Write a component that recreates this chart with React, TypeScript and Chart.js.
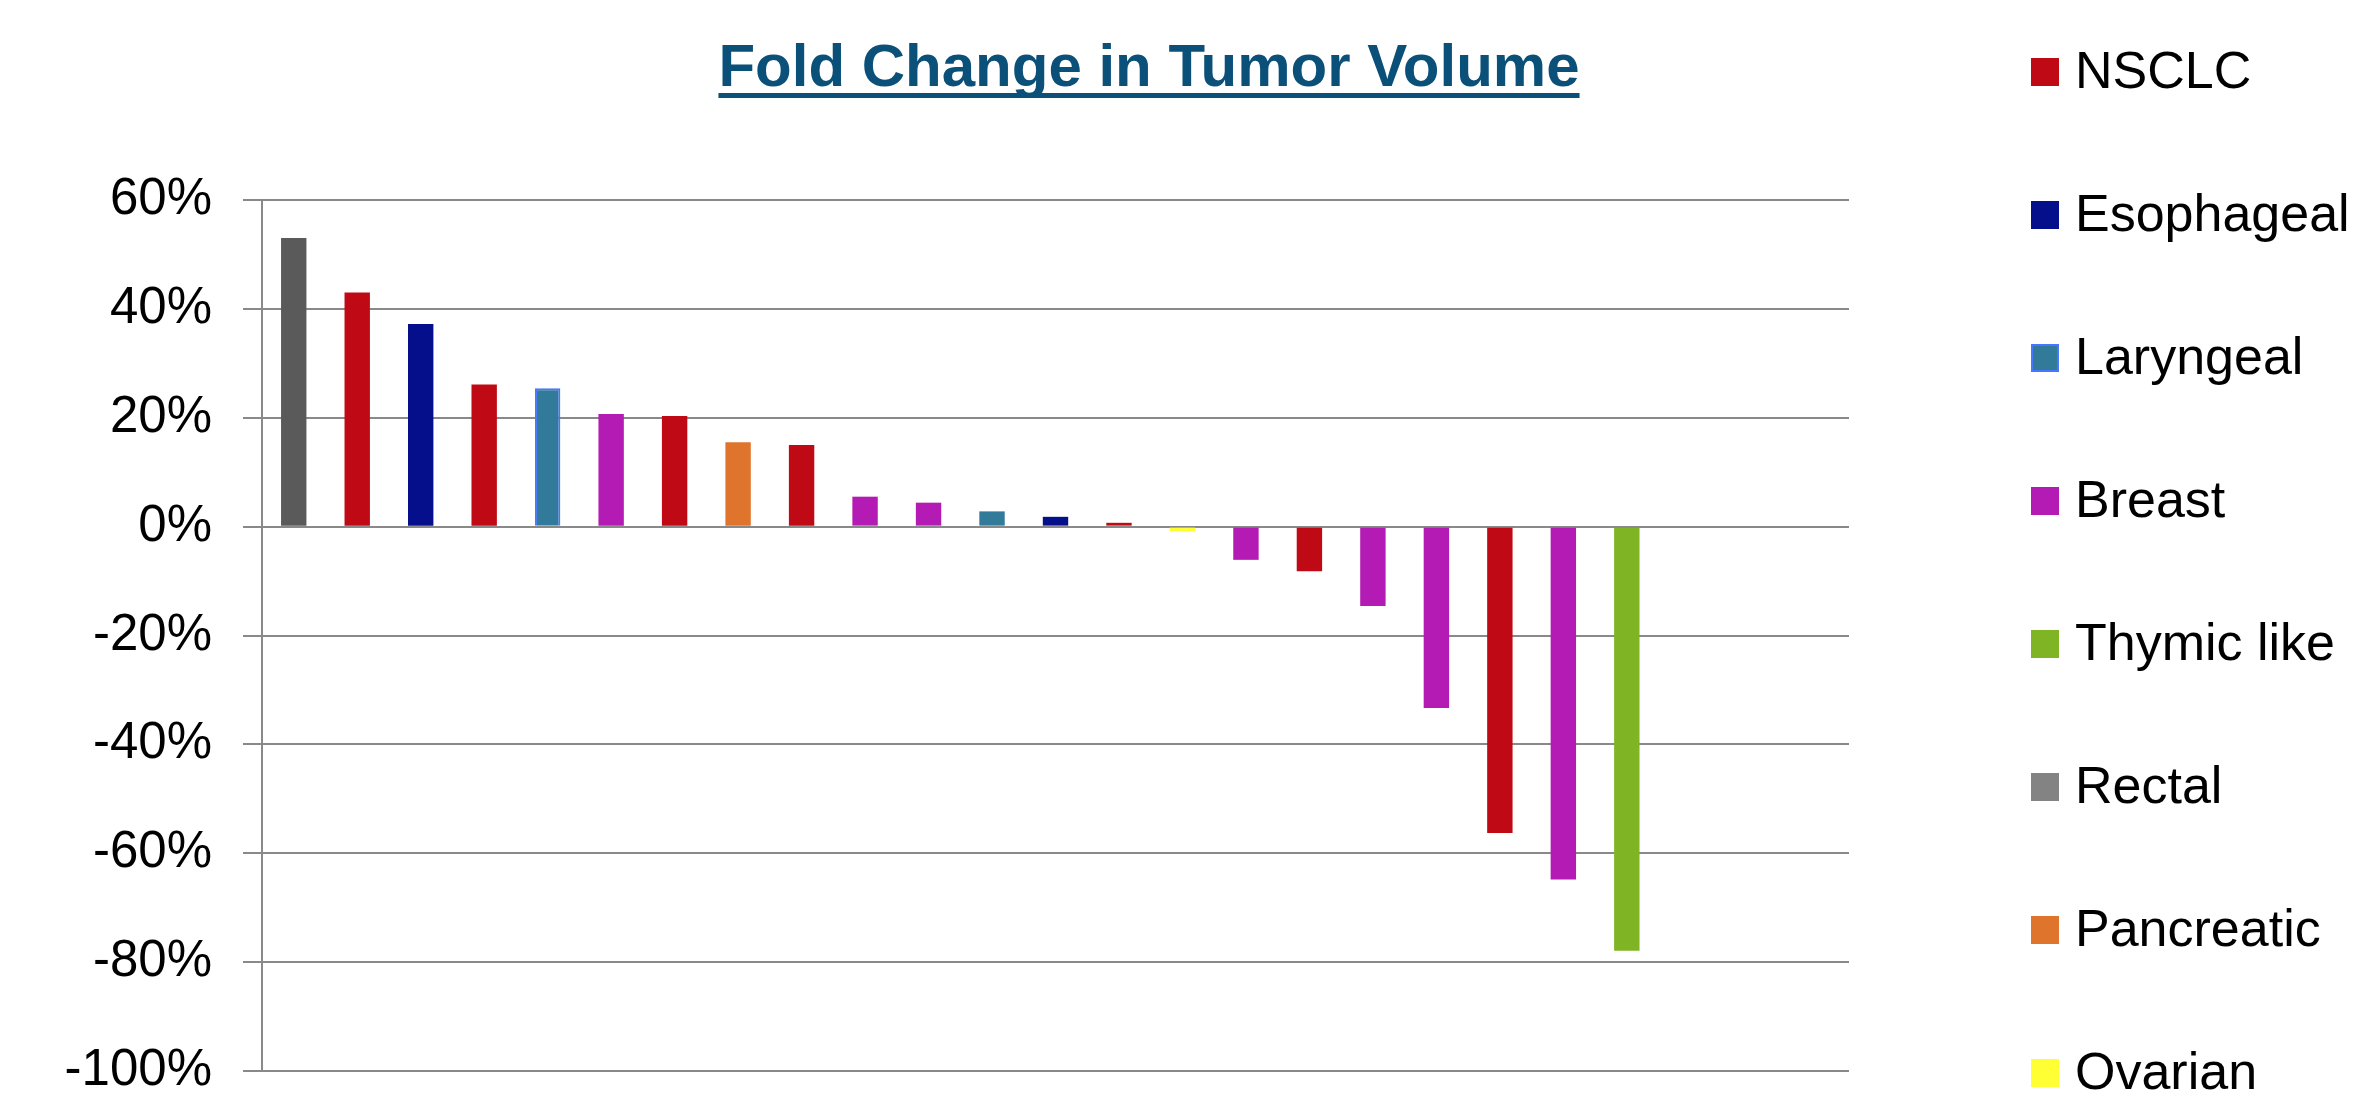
import React, { useEffect, useRef } from "react";
import { Chart, registerables } from "chart.js";

Chart.register(...registerables);

// ---- data ----
const TITLE = "Fold Change in Tumor Volume";
const CATEGORIES = Array.from({ length: 25 }, (_, i) => String(i + 1));
const VALUES: (number | null)[] = [
  53.0, 43.0, 37.2, 26.1, 25.4, 20.7, 20.3, 15.5, 15.0, 5.5, 4.4, 2.8, 1.8, 0.7,
  -0.8, -6.1, -8.2, -14.6, -33.3, -56.3, -64.8, -77.9, null, null, null,
];
const BAR_TYPES = [
  "Rectal", "NSCLC", "Esophageal", "NSCLC", "Laryngeal", "Breast", "NSCLC",
  "Pancreatic", "NSCLC", "Breast", "Breast", "Laryngeal", "Esophageal", "NSCLC",
  "Ovarian", "Breast", "NSCLC", "Breast", "Breast", "NSCLC", "Breast", "Thymic like",
];
const LEGEND_TYPES = [
  "NSCLC", "Esophageal", "Laryngeal", "Breast", "Thymic like", "Rectal", "Pancreatic", "Ovarian",
];
const TYPE_COLORS: Record<string, string> = {
  NSCLC: "#BF0914",
  Esophageal: "#050F8C",
  Laryngeal: "#317A99",
  Breast: "#B41BB4",
  "Thymic like": "#7FB424",
  Rectal: "#5A5A5A",
  Pancreatic: "#DF752C",
  Ovarian: "#FFFF33",
};
const LEGEND_COLORS: Record<string, string> = {
  ...TYPE_COLORS,
  Rectal: "#838383",
};
const OUTLINED_BARS = [4];
const Y_MIN = -100;
const Y_MAX = 60;
const Y_STEP = 20;

const FONT = "'Liberation Sans', Arial, Helvetica, sans-serif";

const overlayPlugin = {
  id: "overlay",
  afterDraw(chart: any) {
    const ctx = chart.ctx as CanvasRenderingContext2D;
    ctx.save();
    // title with underline
    ctx.font = `bold 60px ${FONT}`;
    ctx.fillStyle = "#0B5079";
    ctx.textAlign = "center";
    ctx.textBaseline = "alphabetic";
    const cx = 1149;
    const baseY = 86;
    ctx.fillText(TITLE, cx, baseY);
    const w = ctx.measureText(TITLE).width;
    ctx.fillRect(cx - w / 2, 93, w, 5);

    // legend
    ctx.font = `52px ${FONT}`;
    ctx.textAlign = "left";
    ctx.textBaseline = "middle";
    LEGEND_TYPES.forEach((t, i) => {
      const cy = 72 + i * 143;
      ctx.fillStyle = LEGEND_COLORS[t];
      ctx.fillRect(2031, cy - 14, 28, 28);
      if (t === "Laryngeal") {
        ctx.strokeStyle = "#4876FF";
        ctx.lineWidth = 2;
        ctx.strokeRect(2032, cy - 13, 26, 26);
      }
      ctx.fillStyle = "#000000";
      ctx.fillText(t, 2075, cy + 2);
    });
    ctx.restore();
  },
};

export default function App() {
  const ref = useRef<HTMLCanvasElement | null>(null);

  useEffect(() => {
    if (!ref.current) return;
    const bg = VALUES.map((_, i) => TYPE_COLORS[BAR_TYPES[i]] || "#000");
    const bc = VALUES.map((_, i) => (OUTLINED_BARS.includes(i) ? "#4876FF" : bg[i]));
    const bw = VALUES.map((_, i) => (OUTLINED_BARS.includes(i) ? 2 : 0));
    const chart = new Chart(ref.current, {
      type: "bar",
      data: {
        labels: CATEGORIES,
        datasets: [
          {
            data: VALUES,
            backgroundColor: bg,
            borderColor: bc,
            borderWidth: bw,
            barPercentage: 0.4,
            categoryPercentage: 1,
          },
        ],
      },
      options: {
        animation: false,
        responsive: true,
        maintainAspectRatio: false,
        layout: { padding: { left: 0, top: 200, right: 507, bottom: 27 } },
        plugins: {
          legend: { display: false },
          title: { display: false },
          tooltip: { enabled: false },
        },
        scales: {
          x: { display: false },
          y: {
            min: Y_MIN,
            max: Y_MAX,
            afterFit: (s: any) => {
              s.width = 262;
              s.paddingTop = 0;
              s.paddingBottom = 0;
            },
            ticks: {
              stepSize: Y_STEP,
              padding: 31,
              color: "#000000",
              font: { family: FONT, size: 51, lineHeight: 1 },
              callback: (v: any) => `${v}%`,
            },
            grid: {
              color: "#898989",
              lineWidth: 2,
              tickLength: 19,
              drawTicks: true,
            },
            border: { display: true, color: "#898989", width: 2 },
          },
        },
      },
      plugins: [overlayPlugin],
    });
    return () => chart.destroy();
  }, []);

  return (
    <div style={{ position: "fixed", left: 0, top: 0, width: 2356, height: 1098, background: "#fff" }}>
      <canvas ref={ref} />
    </div>
  );
}
